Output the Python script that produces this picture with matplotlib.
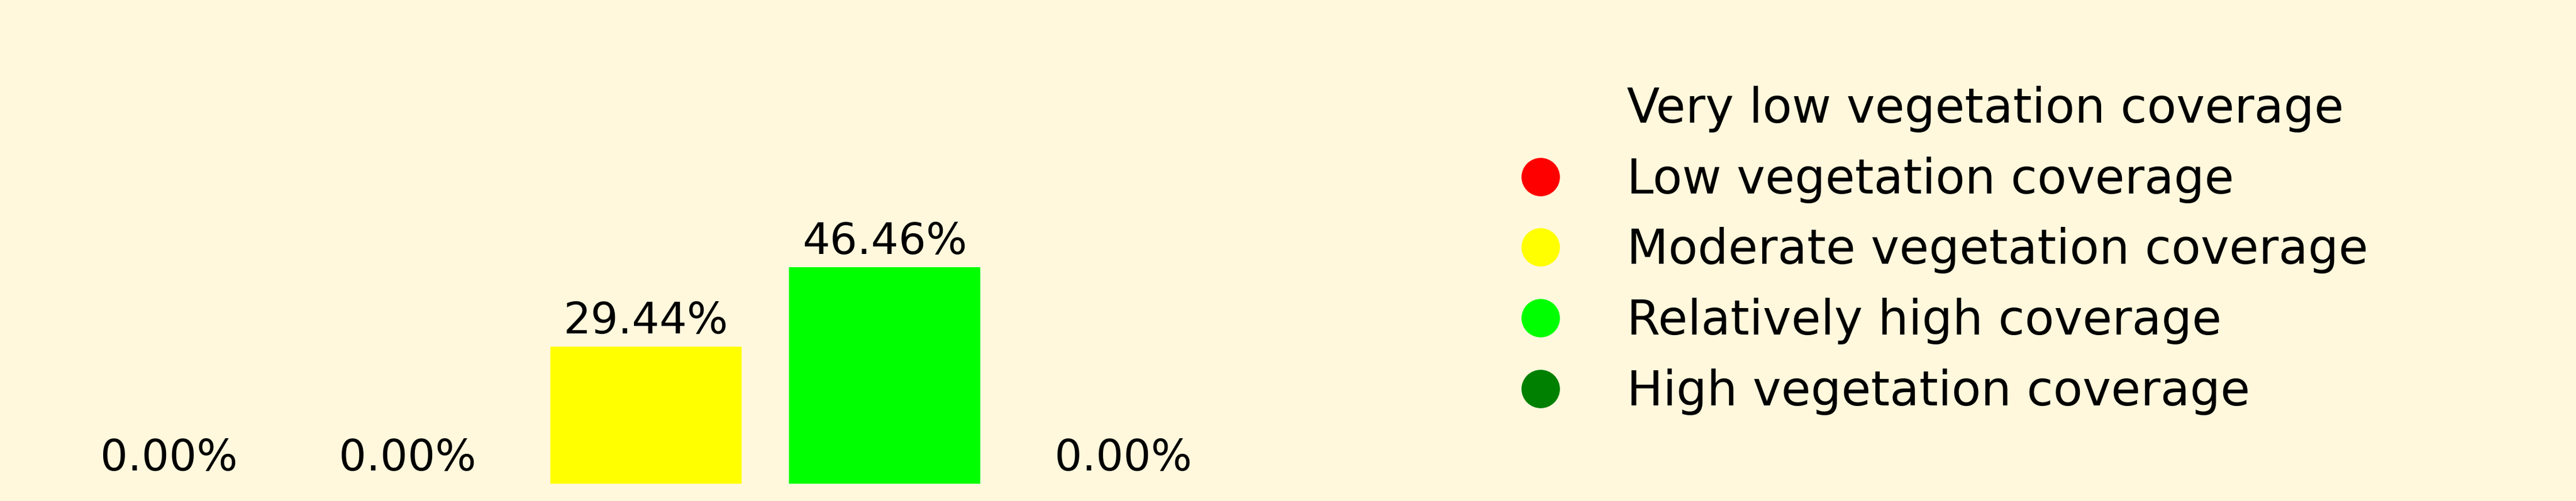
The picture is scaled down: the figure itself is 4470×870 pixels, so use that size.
import matplotlib
matplotlib.use("Agg")
import matplotlib.pyplot as plt
from matplotlib.lines import Line2D

categories = ["Very low vegetation coverage", "Low vegetation coverage",
              "Moderate vegetation coverage", "Relatively high coverage",
              "High vegetation coverage"]
values = [0.00, 0.00, 29.44, 46.46, 0.00]
colors = ["#FFF8DC", "#FF0000", "#FFFF00", "#00FF00", "#008000"]
labels = [f"{v:.2f}%" for v in values]

BG = "#FFF8DC"
W, H, DPI = 4470, 870, 300
fig = plt.figure(figsize=(W / DPI, H / DPI), dpi=DPI, facecolor=BG)
ax = fig.add_axes([28 / W, 30 / H, 2186 / W, 809 / H], facecolor=BG)

x = list(range(len(categories)))
bars = ax.bar(x, values, width=0.8, color=colors)
ax.bar_label(bars, labels=labels, padding=1.7, fontsize=18)
ax.set_xlim(-0.64, 4.64)
ax.set_ylim(0, 100)
ax.axis("off")

handles = [Line2D([], [], linestyle="none", marker="o", markersize=15,
                  markerfacecolor=c, markeredgecolor=c) for c in colors]
fig.legend(handles, categories, loc="upper left",
           bbox_to_anchor=(2515 / W, 1 - 74 / H), frameon=False,
           fontsize=20, labelspacing=0.5, handlelength=2.0, handletextpad=0.8)

fig.savefig("out.png", dpi=DPI, facecolor=BG)
